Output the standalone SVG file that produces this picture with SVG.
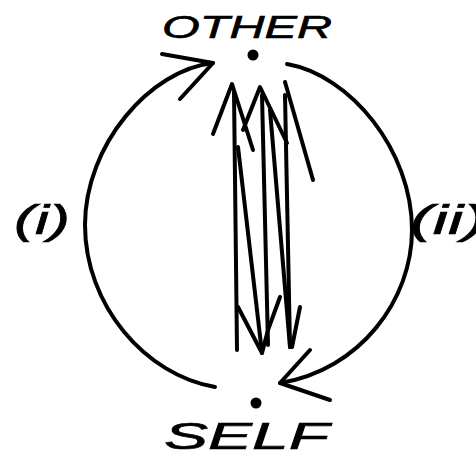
<svg xmlns="http://www.w3.org/2000/svg" width="476" height="458" viewBox="0 0 476 458">
<style>
.ln{fill:none;stroke:#000;stroke-width:4;stroke-linecap:round;stroke-linejoin:round}
.th{fill:none;stroke:#000;stroke-width:4;stroke-linecap:round;stroke-linejoin:round}
.lb{font-family:"Liberation Sans",Arial,sans-serif;font-style:italic;fill:#000;stroke:#000;stroke-width:0.6}
</style>
<rect width="476" height="458" fill="#fff"/>
<g id="other">
<circle cx="253" cy="55" r="5.5" fill="#000"/>
<text class="lb" x="162" y="38" font-size="31" textLength="170" lengthAdjust="spacingAndGlyphs">OTHER</text>
</g>
<g id="self">
<circle cx="256" cy="403" r="5.5" fill="#000"/>
<text class="lb" x="164" y="449" font-size="36" textLength="165" lengthAdjust="spacingAndGlyphs">SELF</text>
</g>
<g id="connectors">
<path class="ln" d="M213 63 C150 70, 85 145, 85 225 C85 305, 145 375, 215 387"/>
<path class="ln" d="M162 54 L213 63 L180 99"/>
<path class="ln" d="M287 64 C350 75, 412 150, 412 230 C412 300, 360 370, 280 383"/>
<path class="ln" d="M310 350 L280 383 L330 400"/>
<g id="exchange">
<path class="th" d="M213 134 L232 84 L253 150"/>
<path class="th" d="M234 92 L237 350"/>
<path class="th" d="M238 147 L262 353"/>
<path class="th" d="M243 130 L260 87 L287 143"/>
<path class="th" d="M262 95 L268 345"/>
<path class="th" d="M270 110 L290 347"/>
<path class="th" d="M285 82 L313 180"/>
<path class="th" d="M285 95 L290 347"/>
<path class="th" d="M238 307 L262 353 L268 330 L280 297"/>
<path class="th" d="M300 307 L292 347"/>
</g>
<text class="lb" x="14" y="234" font-size="40" textLength="56" lengthAdjust="spacingAndGlyphs">(i)</text>
<text class="lb" x="410" y="234" font-size="40" textLength="76" lengthAdjust="spacingAndGlyphs">(ii)</text>
</g>
</svg>
